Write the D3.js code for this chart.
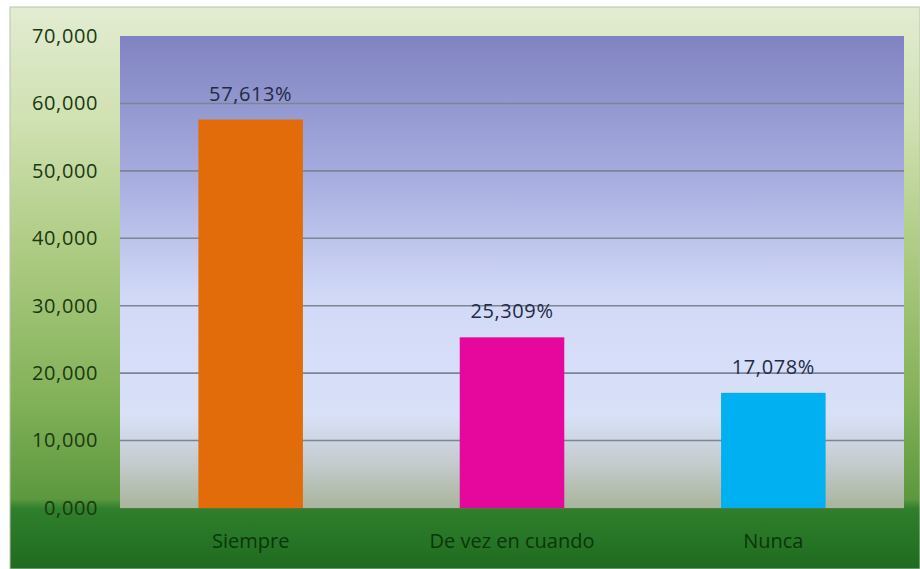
<!DOCTYPE html>
<html>
<head>
<meta charset="utf-8">
<script src="https://cdn.jsdelivr.net/npm/d3@7"></script>
<style>
  html, body { margin: 0; padding: 0; background: #ffffff; }
  svg { display: block; }
  text { font-family: "Open Sans", "Noto Sans", sans-serif; }
</style>
</head>
<body>
<svg id="chart" width="920" height="569"></svg>
<script>
// Survey answers and their share (%)
const categories = ["Siempre", "De vez en cuando", "Nunca"];
const values = [57.613, 25.309, 17.078];
const valueLabels = ["57,613%", "25,309%", "17,078%"];
const barColors = ["#E36C0A", "#E6079C", "#00B0F0"];
const tickValues = [0, 10, 20, 30, 40, 50, 60, 70];
const tickLabels = ["0,000", "10,000", "20,000", "30,000", "40,000", "50,000", "60,000", "70,000"];

const frame = { x: 10, y: 7, w: 910, h: 562 };
const plot = { left: 120, right: 904, top: 36, bottom: 508 };

const svg = d3.select("#chart");
const defs = svg.append("defs");

// Chart-area background: pale green fading to deep green below the plot
const bg = defs.append("linearGradient").attr("id", "bgGrad")
  .attr("x1", 0).attr("y1", 0).attr("x2", 0).attr("y2", 1);
[[0, "#e2ecd2"], [0.2, "#d0e1b2"], [0.45, "#abca80"], [0.7, "#82b158"],
 [0.875, "#5c983e"], [0.893, "#2f7f2c"], [1, "#1f6b20"]]
  .forEach(([o, c]) => bg.append("stop").attr("offset", o).attr("stop-color", c));

// Plot-area background: violet-blue at the top to pale lavender, greying near the base
const pg = defs.append("linearGradient").attr("id", "plotGrad")
  .attr("x1", 0).attr("y1", 0).attr("x2", 0).attr("y2", 1);
[[0, "#8083c1"], [0.3, "#a7addf"], [0.55, "#d1d9f7"], [0.8, "#d9e1f9"],
 [0.9, "#c6ccd0"], [1, "#a9b59c"]]
  .forEach(([o, c]) => pg.append("stop").attr("offset", o).attr("stop-color", c));

svg.append("rect")
  .attr("x", frame.x).attr("y", frame.y)
  .attr("width", frame.w).attr("height", frame.h)
  .attr("fill", "url(#bgGrad)")
  .attr("stroke", "#b9c2ad").attr("stroke-width", 1);

svg.append("rect")
  .attr("x", plot.left).attr("y", plot.top)
  .attr("width", plot.right - plot.left).attr("height", plot.bottom - plot.top)
  .attr("fill", "url(#plotGrad)");

const x = d3.scaleBand()
  .domain(categories)
  .range([plot.left, plot.right])
  .paddingInner(0.6)
  .paddingOuter(0.3);

const y = d3.scaleLinear()
  .domain([0, 70])
  .range([plot.bottom, plot.top]);

// Horizontal gridlines
svg.append("g")
  .selectAll("line")
  .data(tickValues.filter(v => v > 0 && v < 70))
  .join("line")
  .attr("x1", plot.left).attr("x2", plot.right)
  .attr("y1", d => y(d)).attr("y2", d => y(d))
  .attr("stroke", "#7d8494").attr("stroke-width", 1.6);

// Value axis
const yAxis = d3.axisLeft(y)
  .tickValues(tickValues)
  .tickFormat((d, i) => tickLabels[i])
  .tickSize(0)
  .tickPadding(22);
const gy = svg.append("g").attr("transform", `translate(${plot.left},0)`).call(yAxis);
gy.select(".domain").remove();
gy.selectAll("text")
  .attr("fill", "#1a3810")
  .style("font-size", "20px")
  .style("letter-spacing", "0.6px");

// Bars
svg.append("g")
  .selectAll("rect")
  .data(values)
  .join("rect")
  .attr("x", (d, i) => x(categories[i]))
  .attr("y", d => y(d))
  .attr("width", x.bandwidth())
  .attr("height", d => y(0) - y(d))
  .attr("fill", (d, i) => barColors[i]);

// Value labels above the bars
svg.append("g")
  .selectAll("text")
  .data(values)
  .join("text")
  .attr("x", (d, i) => x(categories[i]) + x.bandwidth() / 2)
  .attr("y", d => y(d) - 19)
  .attr("text-anchor", "middle")
  .attr("fill", "#1f2b45")
  .style("font-size", "20px")
  .style("letter-spacing", "0.6px")
  .text((d, i) => valueLabels[i]);

// Category axis
const xAxis = d3.axisBottom(x).tickSize(0).tickPadding(26);
const gx = svg.append("g").attr("transform", `translate(0,${plot.bottom})`).call(xAxis);
gx.select(".domain").attr("stroke", "#4e7a3c").attr("stroke-width", 1);
gx.selectAll("text")
  .attr("fill", "#0b350c")
  .style("font-size", "20px");
</script>
</body>
</html>
